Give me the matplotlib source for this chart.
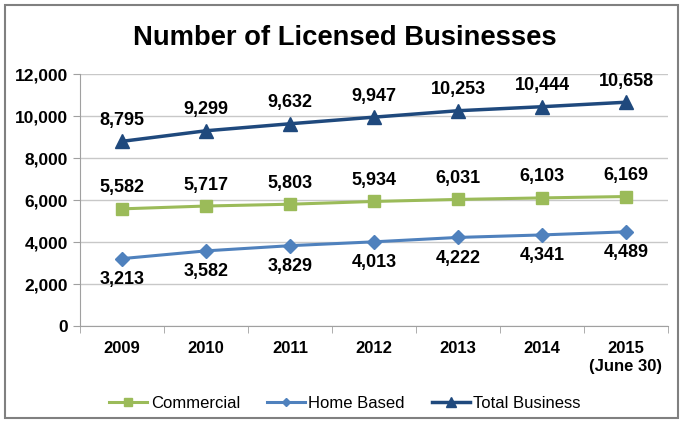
import numpy as np
import matplotlib.pyplot as plt
from matplotlib.patches import Rectangle

plt.rcParams['font.family'] = ['Liberation Sans', 'DejaVu Sans']

years = ['2009', '2010', '2011', '2012', '2013', '2014', '2015\n(June 30)']
commercial = [5582, 5717, 5803, 5934, 6031, 6103, 6169]
home_based = [3213, 3582, 3829, 4013, 4222, 4341, 4489]
total = [8795, 9299, 9632, 9947, 10253, 10444, 10658]

fig = plt.figure(figsize=(6.83, 4.23), dpi=100)
ax = fig.add_axes([0.117, 0.229, 0.861, 0.596])

x = np.arange(len(years))
ax.plot(x, commercial, color='#9BBB59', marker='s', markersize=9, lw=2.2, label='Commercial')
ax.plot(x, home_based, color='#4F81BD', marker='D', markersize=7, lw=2.2, label='Home Based')
ax.plot(x, total, color='#1F497D', marker='^', markersize=10, lw=2.5, label='Total Business')

# value labels
for xi, v in zip(x, total):
    ax.annotate(f'{v:,}', (xi, v), xytext=(0, 9), textcoords='offset points',
                ha='center', va='bottom', fontsize=13, fontweight='bold')
for xi, v in zip(x, commercial):
    ax.annotate(f'{v:,}', (xi, v), xytext=(0, 9), textcoords='offset points',
                ha='center', va='bottom', fontsize=13, fontweight='bold')
for xi, v in zip(x, home_based):
    ax.annotate(f'{v:,}', (xi, v), xytext=(0, -9), textcoords='offset points',
                ha='center', va='top', fontsize=13, fontweight='bold')

ax.set_xlim(-0.5, len(years) - 0.5)
ax.set_ylim(0, 12000)
ax.set_yticks(np.arange(0, 12001, 2000))
ax.yaxis.set_major_formatter(plt.FuncFormatter(lambda v, p: f'{int(v):,}'))
ax.set_xticks(x)
ax.set_xticklabels(years, fontweight='bold', fontsize=12)
ax.set_xticks(np.arange(-0.5, len(years), 1), minor=True)
ax.tick_params(axis='x', which='major', length=0, pad=11)
ax.tick_params(axis='x', which='minor', length=5, color='#A0A0A0')
ax.tick_params(axis='y', length=5, color='#A0A0A0', labelsize=12.5)
for lab in ax.get_yticklabels():
    lab.set_fontweight('bold')

ax.grid(axis='y', color='#C8C8C8', lw=1)
ax.set_axisbelow(True)
for s in ['top', 'right']:
    ax.spines[s].set_visible(False)
ax.spines['left'].set_color('#A0A0A0')
ax.spines['bottom'].set_color('#A0A0A0')

fig.text(0.505, 0.91, 'Number of Licensed Businesses', ha='center', va='center',
         fontsize=19.7, fontweight='bold')

fig.legend(loc='center', bbox_to_anchor=(0.505, 0.047), ncol=3, frameon=False,
           fontsize=12, handlelength=2.3, columnspacing=1.6, handletextpad=0.2,
           markerscale=0.65)

fig.patches.append(Rectangle((0.007, 0.012), 0.986, 0.976, transform=fig.transFigure,
                             fill=False, edgecolor='#808080', lw=1.5))

fig.savefig('out.png', dpi=100)
